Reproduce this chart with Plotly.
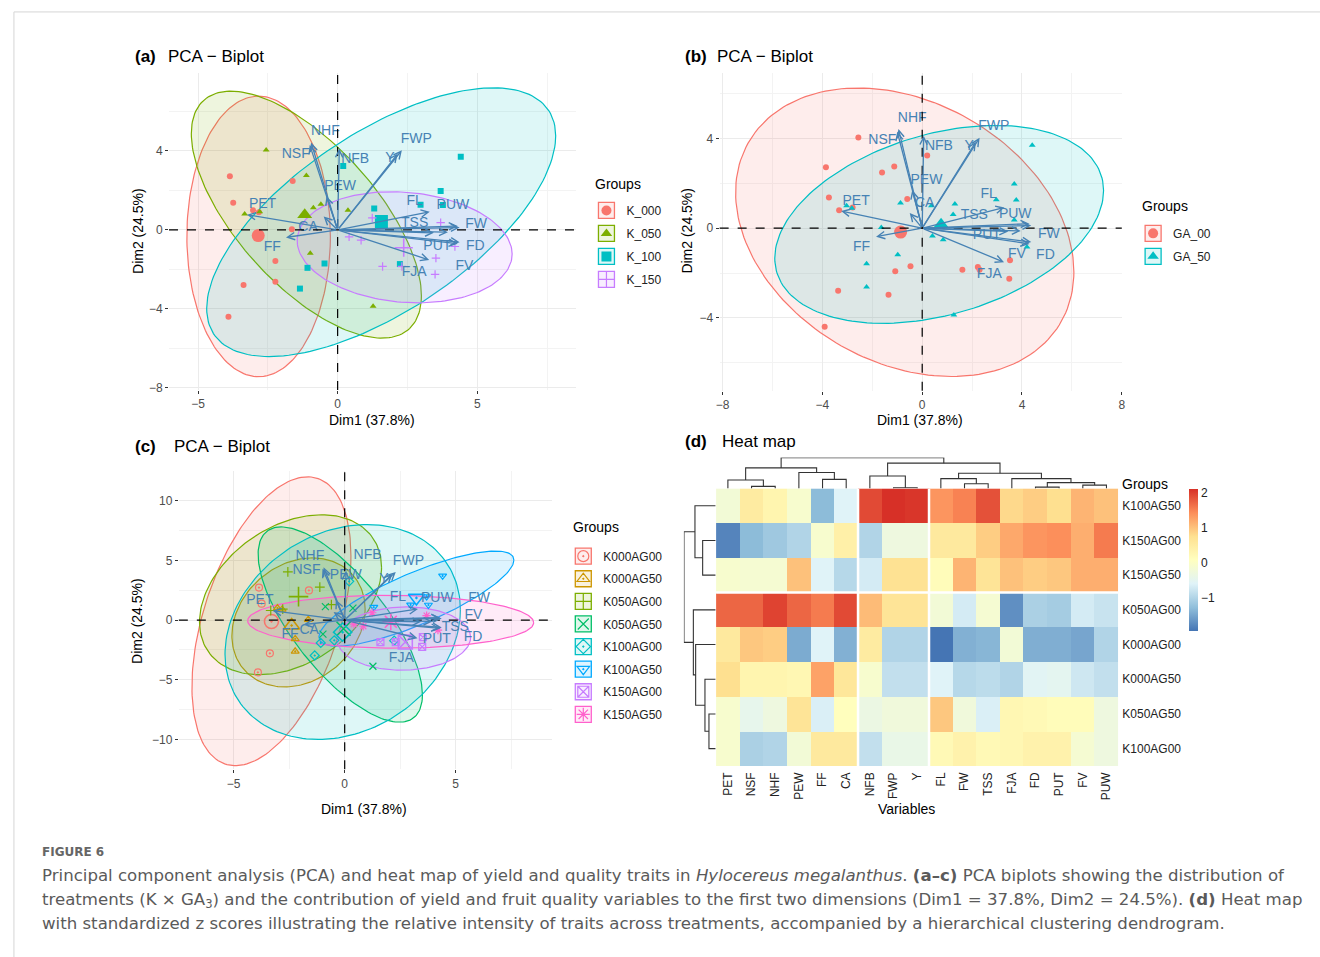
import numpy as np
import plotly.graph_objects as go

W, H = 1320, 957
def fx(p): return p / W
def fy(p): return 1 - p / H

# ---------------- data ----------------
var_names = ["PET", "NSF", "NHF", "PEW", "FF", "CA", "NFB", "FWP", "Y",
             "FL", "FW", "TSS", "FJA", "FD", "PUT", "FV", "PUW"]
var_dim1 = [-3.25, -1.00, -0.95, -0.40, -1.85, -0.50, 0.06, 2.30, 2.15,
            3.30, 4.37, 3.45, 3.28, 4.37, 3.95, 4.30, 4.30]
var_dim2 = [0.77, 4.30, 4.42, 1.70, -0.38, 0.68, 4.12, 4.03, 3.85,
            0.92, 0.12, -0.15, -1.52, -0.62, -0.12, -0.70, 0.20]

# label positions
lab_a_x = [-2.69, -1.50, -0.44, 0.09, -2.34, -1.06, 0.63, 2.82, 1.87, 2.76, 4.96, 2.76, 2.74, 4.93, 3.57, 4.54, 4.13]
lab_a_y = [1.28, 3.83, 5.00, 2.18, -0.90, 0.10, 3.58, 4.58, 3.61, 1.44, 0.27, 0.30, -2.17, -0.82, -0.82, -1.83, 1.23]
lab_b_x = [-2.65, -1.60, -0.40, 0.17, -2.43, 0.10, 0.67, 2.87, 1.88, 2.66, 5.08, 2.09, 2.69, 4.94, 2.59, 3.80, 3.73]
lab_b_y = [1.18, 3.89, 4.88, 2.11, -0.84, 1.12, 3.64, 4.52, 3.64, 1.48, -0.30, 0.56, -2.07, -1.21, -0.33, -1.18, 0.59]
lab_c_x = [-3.82, -1.72, -1.57, 0.05, -2.46, -1.60, 1.03, 2.87, 1.77, 2.40, 6.05, 4.98, 2.55, 5.78, 4.15, 5.80, 4.17]
lab_c_y = [1.67, 4.17, 5.33, 3.75, -1.25, -0.89, 5.42, 4.94, 3.39, 1.89, 1.80, -0.61, -3.25, -1.47, -1.67, 0.36, 1.80]

# individuals (Dim1, Dim2) with treatment factors
ind_dim1 = [-3.86, -3.74, -1.61, -3.37, -3.91,
            -3.03, -2.82, -1.64, -2.23, -2.23,
            -2.56, -1.12, -2.79, -3.33, -0.60,
            -0.87, -0.98, 1.27, 0.37,
            0.20, -1.08, -0.47, -1.35, 2.23,
            4.41, 3.69, 3.77, 2.97, 1.31,
            3.52, 1.61, 3.49, 2.30,
            1.24, 3.69, 0.41, 0.84, 4.20]
ind_dim2 = [2.72, 1.37, 2.48, -2.79, -4.39,
            1.00, 0.89, 0.03, -1.58, -2.62,
            4.04, 2.75, 0.92, 0.80, 1.30,
            1.12, -1.18, -3.87, 1.00,
            3.24, -1.92, -1.70, -2.97, -1.73,
            3.70, 1.97, 1.26, 1.27, 1.08,
            -1.43, -1.85, -2.25, -1.85,
            0.61, 0.37, -0.35, -0.52, -0.84]
ind_K = (["K_000"] * 10 + ["K_050"] * 9 + ["K_100"] * 10 + ["K_150"] * 9)
ind_GA = (["GA_00"] * 5 + ["GA_50"] * 5 + ["GA_00"] * 5 + ["GA_50"] * 4 +
          ["GA_00"] * 5 + ["GA_50"] * 5 + ["GA_00"] * 4 + ["GA_50"] * 5)
ind_trt = (["K000AG00"] * 5 + ["K000AG50"] * 5 + ["K050AG00"] * 5 + ["K050AG50"] * 4 +
           ["K100AG00"] * 5 + ["K100AG50"] * 5 + ["K150AG00"] * 4 + ["K150AG50"] * 5)

# groups
grp_a = ["K_000", "K_050", "K_100", "K_150"]
grp_b = ["GA_00", "GA_50"]
grp_c = ["K000AG00", "K000AG50", "K050AG00", "K050AG50",
         "K100AG00", "K100AG50", "K150AG00", "K150AG50"]

# concentration ellipses: centre, half-extent in x / y, phase (deg)
ell_a = dict(cx=[-2.83, -1.12, 1.56, 2.40], cy=[-0.33, 0.77, 0.39, -0.88],
             rx=[2.57, 4.12, 6.25, 3.85], ry=[7.10, 6.25, 6.80, 2.81],
             ph=[90, 131, 50, 97])
ell_b = dict(cx=[-0.70, 0.68], cy=[-0.18, 0.17], rx=[6.78, 6.59], ry=[6.43, 4.41], ph=[106, 70])
ell_c = dict(cx=[-3.30, -2.08, -2.44, -0.20, -0.09, 3.23, 2.67, 2.07],
             cy=[-0.10, -0.20, 2.12, -0.38, -1.00, 1.80, -1.55, -0.14],
             rx=[3.58, 3.00, 4.10, 3.70, 5.30, 4.39, 3.00, 6.44],
             ry=[12.10, 5.40, 6.70, 8.18, 9.00, 3.98, 2.65, 2.22],
             ph=[63, 78, 70, 136, 78, 36, 88, 92])

# heat map (z scores)
hm_cols = var_names
hm_rows = ["K100AG50", "K150AG00", "K150AG50", "K050AG00",
           "K000AG00", "K000AG50", "K050AG50", "K100AG00"]
row_K100AG50 = [-0.20, 0.50, 0.30, -0.10, -1.30, -0.60, 1.90, 2.09, 2.05, 1.35, 1.50, 1.85, 0.80, 0.90, 0.75, 1.10, 1.00]
row_K150AG00 = [-1.80, -1.30, -1.15, -1.00, -0.10, 0.40, -1.00, -0.30, -0.30, 0.55, 0.55, 0.90, 1.20, 1.35, 1.40, 1.15, 1.55]
row_K150AG50 = [-0.10, -0.15, -0.15, 1.00, -0.60, -0.95, -0.70, 0.70, 0.70, 0.15, 1.10, 0.65, 1.00, 0.90, 0.95, 1.15, 1.15]
row_K050AG00 = [1.70, 1.70, 1.95, 1.70, 1.55, 1.90, 1.05, 0.65, 0.65, -0.20, -0.70, -0.15, -1.70, -1.05, -1.10, -0.70, -0.80]
row_K000AG00 = [0.55, 0.95, 0.90, -1.45, -0.60, -1.40, 0.50, -1.00, -1.00, -1.94, -1.40, -1.35, -0.20, -1.42, -1.42, -1.50, -1.00]
row_K000AG50 = [0.75, 0.30, 0.30, 0.25, 1.25, 0.60, -0.10, -0.85, -0.85, -0.60, -0.95, -0.90, -1.00, -0.55, -0.50, -0.75, -0.85]
row_K050AG50 = [-0.10, -0.45, -0.30, 0.65, -0.65, 0.10, -0.35, -0.25, -0.25, 0.95, -0.25, -0.65, 0.25, 0.20, 0.15, 0.15, -0.30]
row_K100AG00 = [-0.10, -1.05, -1.00, -0.20, 0.55, 0.55, -0.85, -0.40, -0.40, 0.20, 0.35, 0.20, 0.25, 0.35, 0.35, -0.15, -0.30]

# hierarchical clustering merges (node a, node b, height); leaves in display order
col_merges = [(1, 2, 2.0), (0, 17, 8.3), (4, 5, 9.0), (3, 19, 15.7), (18, 20, 20.3),
              (7, 8, 0.7), (6, 22, 12.3), (10, 11, 4.7), (9, 24, 9.7), (13, 14, 1.3),
              (15, 16, 3.3), (26, 27, 5.7), (12, 28, 9.7), (25, 29, 15.0), (23, 30, 25.0),
              (21, 31, 30.3)]
row_merges = [(1, 2, 13.0), (0, 8, 20.7), (6, 7, 6.7), (5, 10, 10.7), (4, 11, 20.0),
              (3, 12, 22.3), (9, 13, 31.7)]

# ---------------- styles ----------------
hue4 = ["#F8766D", "#7CAE00", "#00BFC4", "#C77CFF"]
hue2 = ["#F8766D", "#00BFC4"]
hue8 = ["#F8766D", "#CD9600", "#7CAE00", "#00BE67", "#00BFC4", "#00A9FF", "#C77CFF", "#FF61CC"]
sym_a = ["circle", "triangle-up", "square", "cross-thin-open"]
sym_b = ["circle", "triangle-up"]
sym_c = ["circle-open-dot", "triangle-up-open-dot", "cross-thin-open", "x-thin-open",
         "diamond-open-dot", "triangle-down-open-dot", "square-x-open", "asterisk-open"]
STEEL = "#4682B4"
FONT = "Liberation Sans, Arial, sans-serif"


def rgba(hexc, a):
    h = hexc.lstrip("#")
    return f"rgba({int(h[0:2], 16)},{int(h[2:4], 16)},{int(h[4:6], 16)},{a})"


def ell_xy(cx, cy, rx, ry, ph):
    t = np.linspace(0, 2 * np.pi, 181)
    p = np.deg2rad(ph)
    return cx + rx * np.cos(t), cy + ry * np.cos(t - p)


fig = go.Figure()
d1 = np.array(ind_dim1)
d2 = np.array(ind_dim2)


def add_pca(n, groups, membership, colors, symbols, ell, labx, laby, leg_mark, leg_box,
            pt_size, cen_size, open_sym):
    xr = "x" if n == 1 else f"x{n}"
    yr = "y" if n == 1 else f"y{n}"
    mem = np.array(membership)
    for i, g in enumerate(groups):
        ex, ey = ell_xy(ell["cx"][i], ell["cy"][i], ell["rx"][i], ell["ry"][i], ell["ph"][i])
        fig.add_trace(go.Scatter(x=ex, y=ey, mode="lines", fill="toself",
                                 fillcolor=rgba(colors[i], 0.13),
                                 line=dict(color=colors[i], width=1.2),
                                 xaxis=xr, yaxis=yr, showlegend=False, hoverinfo="skip"))
    for i, g in enumerate(groups):
        m = mem == g
        lw = 1.2 if (open_sym or "open" in symbols[i]) else 0
        fig.add_trace(go.Scatter(x=d1[m], y=d2[m], mode="markers",
                                 marker=dict(symbol=symbols[i], size=pt_size, color=colors[i],
                                             line=dict(color=colors[i], width=lw)),
                                 xaxis=xr, yaxis=yr, showlegend=False, name=g))
        fig.add_trace(go.Scatter(x=[d1[m].mean()], y=[d2[m].mean()], mode="markers",
                                 marker=dict(symbol=symbols[i], size=cen_size, color=colors[i],
                                             line=dict(color=colors[i], width=lw * 1.3)),
                                 xaxis=xr, yaxis=yr, showlegend=False, name=g))
    # legend entries (box behind + marker on top)
    for i, g in enumerate(groups):
        lw = 1.2 if "open" in symbols[i] else 0
        fig.add_trace(go.Scatter(x=[None], y=[None], mode="markers", name=g,
                                 legend=leg_box, legendgroup=f"{leg_box}_{g}",
                                 marker=dict(symbol="square", size=16, color=rgba(colors[i], 0.13),
                                             line=dict(color=colors[i], width=1.3)),
                                 xaxis=xr, yaxis=yr, hoverinfo="skip"))
        fig.add_trace(go.Scatter(x=[None], y=[None], mode="markers", name=g,
                                 legend=leg_mark, legendgroup=f"{leg_mark}_{g}",
                                 marker=dict(symbol=symbols[i], size=10 if lw == 0 else 11,
                                             color=colors[i], line=dict(color=colors[i], width=lw)),
                                 xaxis=xr, yaxis=yr, hoverinfo="skip"))
    fig.add_trace(go.Scatter(x=labx, y=laby, text=var_names, mode="text",
                             textfont=dict(color=STEEL, size=14, family=FONT),
                             xaxis=xr, yaxis=yr, showlegend=False, hoverinfo="skip", cliponaxis=False))
    for v in range(len(var_names)):
        fig.add_annotation(x=var_dim1[v], y=var_dim2[v], ax=0, ay=0, xref=xr, yref=yr,
                           axref=xr, ayref=yr, showarrow=True, arrowhead=5, arrowsize=1.1,
                           arrowwidth=1.3, arrowcolor=STEEL, text="")
    fig.add_shape(type="line", xref=f"{xr} domain", x0=0, x1=1, yref=yr, y0=0, y1=0,
                  line=dict(color="black", width=1.2, dash="dash"))
    fig.add_shape(type="line", yref=f"{yr} domain", y0=0, y1=1, xref=xr, x0=0, x1=0,
                  line=dict(color="black", width=1.2, dash="dash"))


add_pca(1, grp_a, ind_K, hue4, sym_a, ell_a, lab_a_x, lab_a_y, "legend", "legend4", 6, 13, False)
add_pca(2, grp_b, ind_GA, hue2, sym_b, ell_b, lab_b_x, lab_b_y, "legend2", "legend5", 6, 13, False)
add_pca(3, grp_c, ind_trt, hue8, sym_c, ell_c, lab_c_x, lab_c_y, "legend3", "legend6", 7, 14, True)

# ---------------- heat map ----------------
hm_z = np.array([row_K100AG50, row_K150AG00, row_K150AG50, row_K050AG00,
                 row_K000AG00, row_K000AG50, row_K050AG50, row_K100AG00])
rdylbu = ["#4575B4", "#91BFDB", "#E0F3F8", "#FFFFBF", "#FEE090", "#FC8D59", "#D73027"]
cscale = [[i / 6, c] for i, c in enumerate(rdylbu)]
fig.add_trace(go.Heatmap(z=hm_z, x=list(range(len(hm_cols))), y=list(range(len(hm_rows))),
                         colorscale=cscale, zmin=hm_z.min(), zmax=hm_z.max(),
                         xaxis="x4", yaxis="y4", hoverinfo="skip",
                         colorbar=dict(x=fx(1192), xanchor="left", y=fy(491.7), yanchor="top",
                                       len=141.6, lenmode="pixels", thickness=9,
                                       thicknessmode="pixels", outlinewidth=0, xpad=0, ypad=0,
                                       tickvals=[-1, 0, 1, 2], ticks="",
                                       tickfont=dict(size=12, color="#222", family=FONT))))
for xg in (5.5, 8.5):
    fig.add_shape(type="line", xref="x4", yref="y4", x0=xg, x1=xg, y0=-0.5, y1=7.5,
                  line=dict(color="white", width=2.5))
fig.add_shape(type="line", xref="x4", yref="y4", x0=-0.5, x1=16.5, y0=2.5, y1=2.5,
              line=dict(color="white", width=2.5))


def dendro_lines(merges, n_leaves):
    pos = {i: float(i) for i in range(n_leaves)}
    hgt = {i: 0.0 for i in range(n_leaves)}
    P, Hh = [], []
    for k, (a, b, h) in enumerate(merges):
        node = n_leaves + k
        P += [pos[a], pos[a], pos[b], pos[b], None]
        Hh += [hgt[a], h, h, hgt[b], None]
        pos[node] = (pos[a] + pos[b]) / 2
        hgt[node] = h
    return P, Hh


cp, ch = dendro_lines(col_merges, len(hm_cols))
fig.add_trace(go.Scatter(x=cp, y=ch, mode="lines", line=dict(color="#333", width=1.1),
                         xaxis="x5", yaxis="y5", showlegend=False, hoverinfo="skip"))
rp, rh = dendro_lines(row_merges, len(hm_rows))
fig.add_trace(go.Scatter(x=rh, y=rp, mode="lines", line=dict(color="#333", width=1.1),
                         xaxis="x6", yaxis="y6", showlegend=False, hoverinfo="skip"))

# ---------------- axes ----------------
def pca_axes(xdom, ydom, xrng, yrng, xdt, ydt):
    base = dict(showgrid=True, gridcolor="#EBEBEB", gridwidth=1, zeroline=False, showline=False,
                ticks="outside", ticklen=3, tickcolor="#333333", tickwidth=1,
                tickfont=dict(size=12, color="#4D4D4D", family=FONT))
    xa = dict(base, domain=[fx(xdom[0]), fx(xdom[1])], range=xrng, dtick=xdt, tick0=0,
              minor=dict(dtick=xdt / 2, tick0=0, showgrid=True, gridcolor="#F3F3F3", gridwidth=1))
    ya = dict(base, domain=[fy(ydom[1]), fy(ydom[0])], range=yrng, dtick=ydt, tick0=0,
              minor=dict(dtick=ydt / 2, tick0=0, showgrid=True, gridcolor="#F3F3F3", gridwidth=1))
    return xa, ya


xa1, ya1 = pca_axes((166, 575), (73, 392), [-6.04, 8.52], [-8.1, 7.96], 5, 4)
xa2, ya2 = pca_axes((720, 1124.6), (73.3, 392.7), [-8.12, 8.0], [-7.24, 6.92], 4, 4)
xa3, ya3 = pca_axes((175.9, 551.2), (473.3, 773.3), [-7.47, 9.33], [-12.5, 12.5], 5, 5)
xa1["anchor"] = "y"; ya1["anchor"] = "x"
xa2["anchor"] = "y2"; ya2["anchor"] = "x2"
xa3["anchor"] = "y3"; ya3["anchor"] = "x3"

hm_xdom = [fx(716.4), fx(1121.1)]
hm_ydom = [fy(770), fy(491)]
plain = dict(showgrid=False, zeroline=False, showline=False, ticks="")
fig.update_layout(
    width=W, height=H, margin=dict(l=0, r=0, t=0, b=0),
    paper_bgcolor="white", plot_bgcolor="rgba(0,0,0,0)",
    font=dict(family=FONT, color="#000"),
    xaxis=xa1, yaxis=ya1, xaxis2=xa2, yaxis2=ya2, xaxis3=xa3, yaxis3=ya3,
    xaxis4=dict(plain, domain=hm_xdom, range=[-0.5, 16.5], anchor="y4",
                tickvals=list(range(len(hm_cols))), ticktext=hm_cols, tickangle=-90,
                ticklabelstandoff=3,
                tickfont=dict(size=12, color="#222", family=FONT)),
    yaxis4=dict(plain, domain=hm_ydom, range=[7.5, -0.5], anchor="x4", side="right",
                tickvals=list(range(len(hm_rows))), ticktext=hm_rows, ticklabelstandoff=3,
                tickfont=dict(size=12, color="#222", family=FONT)),
    xaxis5=dict(plain, domain=hm_xdom, range=[-0.5, 16.5], anchor="y5", showticklabels=False),
    yaxis5=dict(plain, domain=[fy(491), fy(460)], range=[0, 30.5], anchor="x5", showticklabels=False),
    xaxis6=dict(plain, domain=[fx(684), fx(716)], range=[31.8, 0], anchor="y6", showticklabels=False),
    yaxis6=dict(plain, domain=hm_ydom, range=[7.5, -0.5], anchor="x6", showticklabels=False),
)

leg_common = dict(xanchor="left", yanchor="top", bgcolor="rgba(0,0,0,0)",
                  traceorder="grouped", tracegroupgap=4, itemsizing="trace",
                  itemclick=False, itemdoubleclick=False)
legpos = {"a": (586, 197), "b": (1136, 220), "c": (562.7, 544.5)}
fig.update_layout(
    legend=dict(leg_common, x=fx(legpos["a"][0]), y=fy(legpos["a"][1]), font=dict(size=12, color="#222", family=FONT)),
    legend2=dict(leg_common, x=fx(legpos["b"][0]), y=fy(legpos["b"][1]), font=dict(size=12, color="#222", family=FONT)),
    legend3=dict(leg_common, x=fx(legpos["c"][0]), y=fy(legpos["c"][1]), font=dict(size=12, color="#222", family=FONT),
                 tracegroupgap=3.6),
    legend4=dict(leg_common, x=fx(legpos["a"][0]), y=fy(legpos["a"][1]), font=dict(size=12, color="rgba(0,0,0,0)", family=FONT)),
    legend5=dict(leg_common, x=fx(legpos["b"][0]), y=fy(legpos["b"][1]), font=dict(size=12, color="rgba(0,0,0,0)", family=FONT)),
    legend6=dict(leg_common, x=fx(legpos["c"][0]), y=fy(legpos["c"][1]), font=dict(size=12, color="rgba(0,0,0,0)", family=FONT),
                 tracegroupgap=3.6),
)

# ---------------- text ----------------
def txt(x, y, s, size=14, anchor="left", color="#000", angle=0, family=FONT):
    fig.add_annotation(x=fx(x), y=fy(y), xref="paper", yref="paper", text=s, showarrow=False,
                       xanchor=anchor, yanchor="middle", textangle=angle, borderpad=0,
                       font=dict(size=size, color=color, family=family))

for lbl, lx, tx, ty in [("(a)", 131, 164, 57), ("(b)", 684, 716.6, 57), ("(c)", 130.7, 170.4, 448.5)]:
    txt(lx, ty, f"<b>{lbl}</b>", 17)
    txt(tx, ty, "PCA − Biplot", 17)
txt(684, 444, "<b>(d)</b>", 17)
txt(720.9, 444, "Heat map", 17)

txt(370, 422, "Dim1 (37.8%)", 14, "center")
txt(135, 232, "Dim2 (24.5%)", 14, "center", angle=-90)
txt(922, 422, "Dim1 (37.8%)", 14, "center")
txt(687, 232, "Dim2 (24.5%)", 14, "center", angle=-90)
txt(362, 813, "Dim1 (37.8%)", 14, "center")
txt(134, 624, "Dim2 (24.5%)", 14, "center", angle=-90)
txt(908, 813, "Variables", 14, "center")

txt(594, 185, "Groups", 14)
txt(1144, 207, "Groups", 14)
txt(571, 530, "Groups", 14)
txt(1123.5, 486.5, "Groups", 14)

CAP = "DejaVu Sans, Open Sans, sans-serif"
txt(37, 856, "<b>FIGURE 6</b>", 12, color="#666", family=CAP)
txt(37, 880, "Principal component analysis (PCA) and heat map of yield and quality traits in "
             "<i>Hylocereus megalanthus</i>. <b>(a–c)</b> PCA biplots showing the distribution of",
    16.6, color="#5a5a5a", family=CAP)
txt(37, 905, "treatments (K × GA<sub>3</sub>) and the contribution of yield and fruit quality variables "
             "to the first two dimensions (Dim1 = 37.8%, Dim2 = 24.5%). <b>(d)</b> Heat map",
    16.6, color="#5a5a5a", family=CAP)
txt(37, 928, "with standardized z scores illustrating the relative intensity of traits across treatments, "
             "accompanied by a hierarchical clustering dendrogram.",
    16.6, color="#5a5a5a", family=CAP)

# outer frame
fig.add_shape(type="rect", xref="paper", yref="paper", x0=fx(10), x1=fx(1335), y0=fy(975), y1=fy(12),
              line=dict(color="#D5D5D5", width=1), fillcolor="rgba(0,0,0,0)", layer="below")

fig.write_html("out.html", config={"displayModeBar": False},
               post_script="document.body.style.margin='0px';document.body.style.padding='0px';"
                           "document.body.style.overflow='hidden';")
